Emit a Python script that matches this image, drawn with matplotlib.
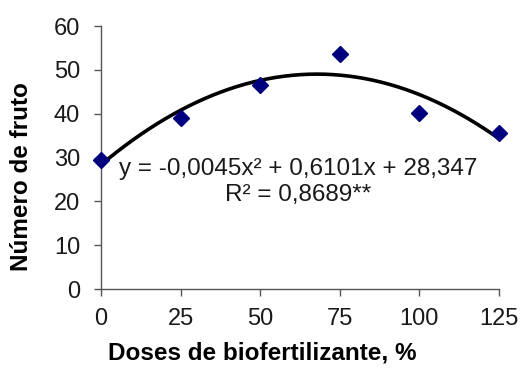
import numpy as np
import matplotlib
matplotlib.use("Agg")
import matplotlib.pyplot as plt

plt.rcParams['font.family'] = ['Liberation Sans', 'DejaVu Sans']

# data
doses = [0, 25, 50, 75, 100, 125]
frutos = [29.4, 38.9, 46.5, 53.6, 40.2, 35.7]
# quadratic trendline coefficients (from the equation on the chart)
coef = [-0.0045, 0.6101, 28.347]
eq_text = "y = -0,0045x² + 0,6101x + 28,347\nR² = 0,8689**"

fig = plt.figure(figsize=(5.22, 3.69), dpi=100)
ax = fig.add_axes([0.1935, 0.2168, 0.7625, 0.7127])

xs = np.linspace(0, 125, 200)
ax.plot(xs, np.polyval(coef, xs), color='black', lw=2.6, zorder=2)
ax.plot(doses, frutos, linestyle='none', marker='D', markersize=8.5,
        color='#00007f', zorder=3, clip_on=False)

ax.text(62, 30.0, eq_text, ha='center', va='top', fontsize=17.5,
        linespacing=1.25, color='#1a1a1a')

ax.set_xlim(0, 125)
ax.set_ylim(0, 60)
ax.set_xticks(doses)
ax.set_yticks(range(0, 61, 10))
ax.spines['top'].set_visible(False)
ax.spines['right'].set_visible(False)
for s in ['left', 'bottom']:
    ax.spines[s].set_color('#555555')
    ax.spines[s].set_linewidth(1.0)
ax.tick_params(axis='both', direction='out', length=5, width=1.0,
               color='#555555', labelsize=17, labelcolor='#1a1a1a')
ax.tick_params(axis='x', pad=9)
ax.tick_params(axis='y', pad=10)

ax.set_xlabel('Doses de biofertilizante, %', fontsize=17.5, fontweight='bold')
ax.set_ylabel('Número de fruto', fontsize=17.5, fontweight='bold')
ax.xaxis.set_label_coords(0.405, -0.2)
ax.yaxis.set_label_coords(-0.17, 0.426)

fig.savefig('out.png', dpi=100)
